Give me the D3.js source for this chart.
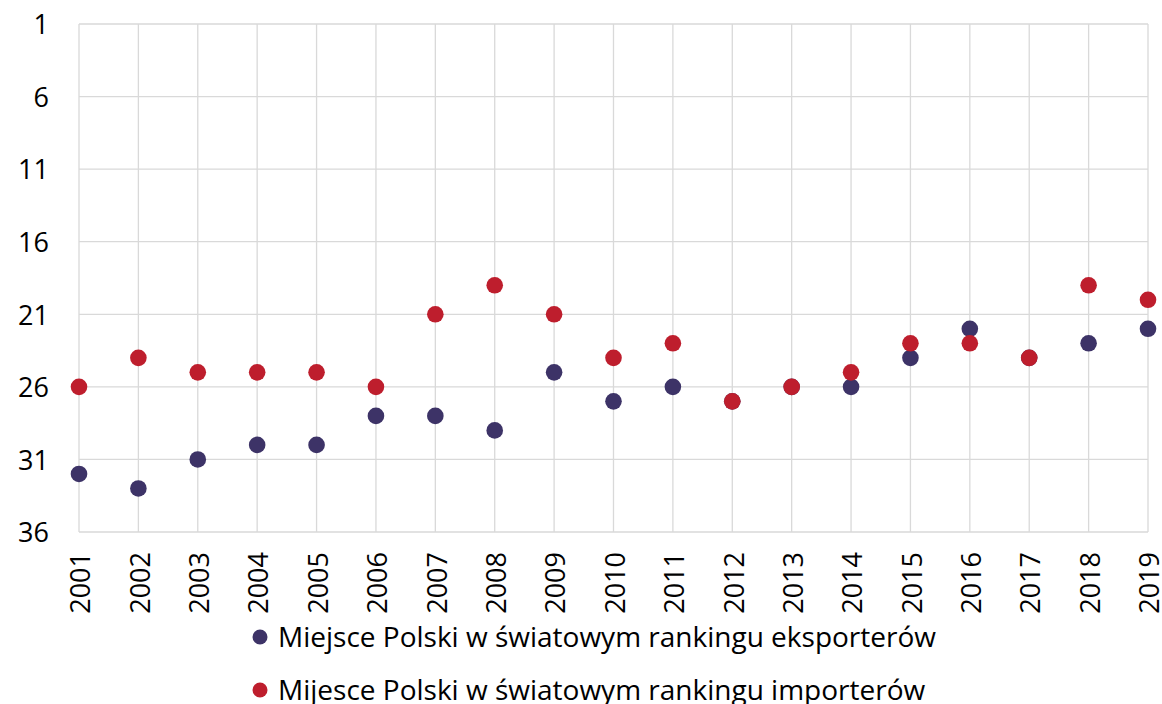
<!DOCTYPE html>
<html>
<head>
<meta charset="utf-8">
<script src="https://cdn.jsdelivr.net/npm/d3@7"></script>
<style>
  body { margin: 0; background: #fff; }
  svg text { font-family: "Open Sans", sans-serif; fill: #000; }
</style>
</head>
<body>
<svg id="chart" width="1162" height="704"></svg>
<script>
/* ---------- data ---------- */
const years = ['2001','2002','2003','2004','2005','2006','2007','2008','2009','2010',
               '2011','2012','2013','2014','2015','2016','2017','2018','2019'];
const exporters = [32, 33, 31, 30, 30, 28, 28, 29, 25, 27, 26, 27, 26, 26, 24, 22, 24, 23, 22];
const importers = [26, 24, 25, 25, 25, 26, 21, 19, 21, 24, 23, 27, 26, 25, 23, 23, 24, 19, 20];
const yTicks = [1, 6, 11, 16, 21, 26, 31, 36];
const seriesNames = [
  'Miejsce Polski w światowym rankingu eksporterów',
  'Mijesce Polski w światowym rankingu importerów'
];

/* ---------- layout ---------- */
const plot = { left: 79, top: 24, right: 1148, bottom: 532 };
const colors = ['#3d3367', '#be1e2d'];
const font = '"Open Sans", sans-serif';

const svg = d3.select('#chart');

const x = d3.scalePoint().domain(years).range([plot.left, plot.right]);
const y = d3.scaleLinear().domain([1, 36]).range([plot.top, plot.bottom]);

// grid
const grid = svg.append('g');
grid.selectAll('.hg').data(yTicks).join('line')
  .attr('x1', plot.left).attr('x2', plot.right)
  .attr('y1', d => y(d)).attr('y2', d => y(d))
  .attr('stroke', '#d9d9d9').attr('stroke-width', 1.3);
grid.selectAll('.vg').data(years).join('line')
  .attr('x1', d => x(d)).attr('x2', d => x(d))
  .attr('y1', plot.top).attr('y2', plot.bottom)
  .attr('stroke', '#d9d9d9').attr('stroke-width', 1.3);

// y axis labels
const yAxis = svg.append('g')
  .attr('transform', `translate(${plot.left - 30},0)`)
  .call(d3.axisLeft(y).tickValues(yTicks).tickSize(0).tickPadding(0));
yAxis.select('.domain').remove();
yAxis.selectAll('text').attr('font-size', 27).attr('dy', '0.36em').attr('x', 0)
  .style('font-family', font);

// x axis labels (rotated)
const xAxis = svg.append('g')
  .attr('transform', `translate(0,${plot.bottom})`)
  .call(d3.axisBottom(x).tickSize(0).tickPadding(0));
xAxis.select('.domain').remove();
xAxis.selectAll('text')
  .attr('font-size', 27)
  .attr('transform', 'rotate(-90)')
  .attr('text-anchor', 'end')
  .attr('x', -20).attr('y', 1).attr('dy', '0.36em')
  .style('font-family', font);

// points
[exporters, importers].forEach((vals, i) => {
  svg.append('g').selectAll('circle').data(vals).join('circle')
    .attr('cx', (d, j) => x(years[j]))
    .attr('cy', d => y(d))
    .attr('r', 8.3)
    .attr('fill', colors[i]);
});

// legend
const legend = svg.append('g');
seriesNames.forEach((name, i) => {
  const ly = 637 + i * 53;
  legend.append('circle').attr('cx', 260).attr('cy', ly).attr('r', 7.5).attr('fill', colors[i]);
  legend.append('text').attr('x', 278).attr('y', ly).attr('dy', '0.36em')
    .attr('font-size', 28).text(name);
});
</script>
</body>
</html>
